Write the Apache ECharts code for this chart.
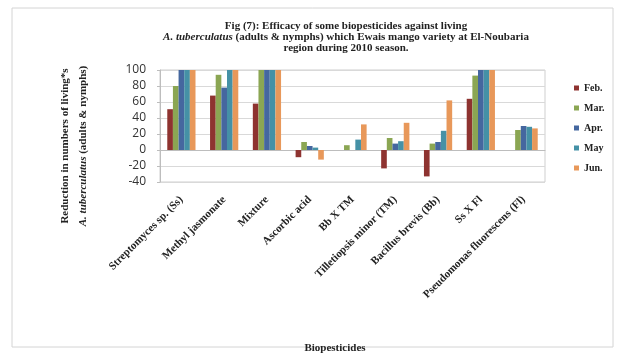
<!DOCTYPE html>
<html>
<head>
<meta charset="utf-8">
<script src="https://cdn.jsdelivr.net/npm/echarts@6/dist/echarts.min.js"></script>
<style>
  html, body { margin: 0; padding: 0; background: #fff; }
  #chart { width: 629px; height: 355px; }
</style>
</head>
<body>
<div id="chart"></div>
<script>
const categories = [
  "Streptomyces sp. (Ss)",
  "Methyl jasmonate",
  "Mixture",
  "Ascorbic acid",
  "Bb X TM",
  "Tilletiopsis minor (TM)",
  "Bacillus brevis (Bb)",
  "Ss X Fl",
  "Pseudomonas fluorescens (Fl)"
];
const months = ["Feb.", "Mar.", "Apr.", "May", "Jun."];
const feb = [51, 68, 58, -9, 0, -23, -33, 64, 0];
const mar = [80, 94, 100, 10, 6, 15, 8, 93, 25];
const apr = [100, 78, 100, 5, 0, 8, 10, 100, 30];
const may = [100, 100, 100, 3, 13, 11, 24, 100, 29];
const jun = [100, 100, 100, -12, 32, 34, 62, 100, 27];
const yTicks = { min: -40, max: 100, step: 20 };

const colors = ["#8E3330", "#8BA653", "#45679F", "#4591A6", "#E8985A"];
const serif = "'Liberation Serif', 'DejaVu Serif', serif";

const chart = echarts.init(document.getElementById("chart"));

const option = {
  animation: false,
  color: colors,
  title: {
    left: 341,
    top: 16,
    textAlign: "center",
    text: "{b|Fig (7): Efficacy of some biopesticides against living}\n" +
          "{i|A. tuberculatus}{b| (adults & nymphs) which Ewais mango variety at El-Noubaria}\n" +
          "{b|region during 2010 season.}",
    textStyle: {
      rich: {
        b: { fontFamily: serif, fontWeight: "bold", fontSize: 11, color: "#222", lineHeight: 11 },
        i: { fontFamily: serif, fontWeight: "bold", fontStyle: "italic", fontSize: 11, color: "#222", lineHeight: 11 }
      }
    }
  },
  legend: {
    orient: "vertical",
    left: 569,
    top: 78,
    icon: "rect",
    itemWidth: 5,
    itemHeight: 5,
    itemGap: 10,
    data: months,
    textStyle: { fontFamily: serif, fontWeight: "bold", fontSize: 10, color: "#222" }
  },
  grid: {
    left: 160,
    right: 84,
    top: 70,
    bottom: 151,
    show: true,
    borderColor: "#cfcfcf",
    borderWidth: 1
  },
  xAxis: {
    type: "category",
    data: categories,
    name: "Biopesticides",
    nameLocation: "middle",
    nameGap: 161,
    nameTextStyle: { fontFamily: serif, fontWeight: "bold", fontSize: 11, color: "#222", padding: [0, 35, 0, 0] },
    axisLine: { onZero: true, lineStyle: { color: "#bdbdbd" } },
    axisTick: { show: false },
    axisLabel: {
      interval: 0,
      rotate: 45,
      margin: 16,
      fontFamily: serif,
      fontWeight: "bold",
      fontSize: 11,
      color: "#222"
    }
  },
  yAxis: {
    type: "value",
    min: yTicks.min,
    max: yTicks.max,
    interval: yTicks.step,
    name: "{b|Reduction in numbers of living*s}\n{i|A. tuberculatus}{b| (adults & nymphs)}",
    nameLocation: "middle",
    nameRotate: 90,
    nameGap: 68,
    nameTextStyle: {
      padding: [0, 40, 0, 0],
      rich: {
        b: { fontFamily: serif, fontWeight: "bold", fontSize: 11, color: "#222", lineHeight: 18 },
        i: { fontFamily: serif, fontWeight: "bold", fontStyle: "italic", fontSize: 11, color: "#222", lineHeight: 18 }
      }
    },
    axisLine: { show: true, lineStyle: { color: "#bdbdbd" } },
    axisTick: { show: true, length: 3, lineStyle: { color: "#bdbdbd" } },
    axisLabel: { margin: 14, fontFamily: "'Open Sans', sans-serif", fontSize: 12, color: "#333" },
    splitLine: { lineStyle: { color: "#d9d9d9" } }
  },
  series: [feb, mar, apr, may, jun].map((vals, i) => ({
    name: months[i],
    type: "bar",
    data: vals,
    barGap: "0%",
    barCategoryGap: "34%"
  }))
};

chart.setOption(option);

chart.setOption({
  graphic: [{
    type: "rect",
    shape: { x: 12, y: 8, width: 601, height: 339 },
    style: { fill: "none", stroke: "#d4d4d4", lineWidth: 1 },
    silent: true,
    z: -1
  }]
});
</script>
</body>
</html>
